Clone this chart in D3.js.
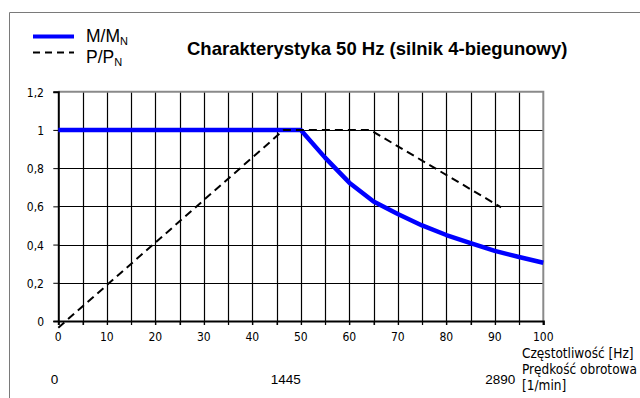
<!DOCTYPE html>
<html>
<head>
<meta charset="utf-8">
<script src="https://cdn.jsdelivr.net/npm/d3@7"></script>
<style>
  html, body { margin: 0; padding: 0; background: #fff; }
  svg { display: block; }
  .tick-label { font-family: "DejaVu Sans Condensed", "DejaVu Sans", sans-serif; font-stretch: condensed; font-size: 12px; fill: #000; }
  .note { font-family: "DejaVu Sans Condensed", "DejaVu Sans", sans-serif; font-stretch: condensed; font-size: 13.5px; fill: #000; }
  .arial { font-family: "Liberation Sans", Arial, sans-serif; fill: #000; }
</style>
</head>
<body>
<svg id="chart" width="640" height="398"></svg>
<script>
// Frequency axis (Hz)
const freqTicks = [0, 10, 20, 30, 40, 50, 60, 70, 80, 90, 100];
const freqGrid = [5, 10, 15, 20, 25, 30, 35, 40, 45, 50, 55, 60, 65, 70, 75, 80, 85, 90, 95];
const yTicks = [0, 0.2, 0.4, 0.6, 0.8, 1, 1.2];

// Torque ratio M/MN
const torqueFreq = [0, 5, 10, 15, 20, 25, 30, 35, 40, 45, 50, 55, 60, 65, 70, 75, 80, 85, 90, 95, 100];
const torqueValues = [1, 1, 1, 1, 1, 1, 1, 1, 1, 1, 1, 0.855, 0.724, 0.625, 0.56, 0.5, 0.45, 0.407, 0.367, 0.335, 0.305];

// Power ratio P/PN
const powerFreq = [0, 46.5, 64.3, 91.3];
const powerValues = [-0.035, 1, 1, 0.595];

// Rotational speed row below the frequency axis
const speedFreq = [0, 50, 100];
const speedLabels = ["0", "1445", "2890"];

const svg = d3.select("#chart");
const x = d3.scaleLinear().domain([0, 100]).range([58.3, 543.3]);
const y = d3.scaleLinear().domain([0, 1.2]).range([321, 91.7]);
const fmt = v => String(+v.toFixed(1)).replace(".", ",");

// outer frame
svg.append("path")
  .attr("d", "M9.5,398 L9.5,12.5 L640,12.5")
  .attr("fill", "none").attr("stroke", "#7a7a7a").attr("stroke-width", 1);

// grid
const grid = svg.append("g");
grid.selectAll("line.v").data(freqGrid).join("line")
  .attr("x1", d => Math.round(x(d)) + 0.5).attr("x2", d => Math.round(x(d)) + 0.5)
  .attr("y1", y(1.2)).attr("y2", y(0) + 4)
  .attr("stroke", "#000").attr("stroke-width", 1.2);
grid.selectAll("line.h").data(yTicks.filter(d => d > 0 && d < 1.2)).join("line")
  .attr("x1", x(0)).attr("x2", x(100))
  .attr("y1", d => Math.round(y(d)) + 0.5).attr("y2", d => Math.round(y(d)) + 0.5)
  .attr("stroke", "#000").attr("stroke-width", 1.2);

// plot-area top and right border
svg.append("path")
  .attr("d", `M${x(0)},${y(1.2)} L${x(100)},${y(1.2)} L${x(100)},${y(0) + 4}`)
  .attr("fill", "none").attr("stroke", "#8a8a8a").attr("stroke-width", 2);

// axes
const xAxis = d3.axisBottom(x).tickValues(freqGrid.concat([0, 100])).tickSize(4).tickFormat("");
svg.append("g").attr("transform", `translate(0,${y(0)})`).call(xAxis)
  .call(g => g.select(".domain").attr("stroke", "#000").attr("stroke-width", 2))
  .call(g => g.selectAll(".tick line").attr("stroke", "#000"));
const yAxis = d3.axisLeft(y).tickValues(yTicks).tickSize(5).tickFormat("");
svg.append("g").attr("transform", `translate(${x(0)},0)`).call(yAxis)
  .call(g => g.select(".domain").attr("stroke", "#000").attr("stroke-width", 2))
  .call(g => g.selectAll(".tick line").attr("stroke", "#000"));

// tick labels
svg.append("g").selectAll("text").data(yTicks).join("text")
  .attr("class", "tick-label")
  .attr("x", 44).attr("y", d => y(d) + 5)
  .attr("text-anchor", "end")
  .text(fmt);
svg.append("g").selectAll("text").data(freqTicks).join("text")
  .attr("class", "tick-label")
  .attr("x", d => x(d)).attr("y", 341)
  .attr("text-anchor", "middle")
  .text(d => d);

// speed row
svg.append("g").selectAll("text").data(speedFreq).join("text")
  .attr("class", "arial")
  .style("font-size", "13.5px")
  .attr("x", (d, i) => x(d) - (i === 2 ? 28 : 0)).attr("y", 384)
  .attr("text-anchor", "end")
  .text((d, i) => speedLabels[i]);

// axis notes
const notes = [["Częstotliwość [Hz]", 358], ["Prędkość obrotowa", 374], ["[1/min]", 390]];
svg.append("g").selectAll("text").data(notes).join("text")
  .attr("class", "note")
  .attr("x", 522).attr("y", d => d[1])
  .text(d => d[0]);

// series
const torqueLine = d3.line().x((d, i) => x(torqueFreq[i])).y(d => y(d));
svg.append("path").datum(torqueValues)
  .attr("d", torqueLine)
  .attr("fill", "none").attr("stroke", "#0000ff").attr("stroke-width", 4.5)
  .attr("stroke-linejoin", "round");

const powerLine = d3.line().x((d, i) => x(powerFreq[i])).y(d => y(d));
svg.append("path").datum(powerValues)
  .attr("d", powerLine)
  .attr("fill", "none").attr("stroke", "#000").attr("stroke-width", 2)
  .attr("stroke-dasharray", "8,5");

// legend
const legend = svg.append("g");
legend.append("line").attr("x1", 33).attr("x2", 74).attr("y1", 36.5).attr("y2", 36.5)
  .attr("stroke", "#0000ff").attr("stroke-width", 4);
legend.append("line").attr("x1", 33).attr("x2", 74).attr("y1", 52.5).attr("y2", 52.5)
  .attr("stroke", "#000").attr("stroke-width", 2).attr("stroke-dasharray", "7,5");
const lm = legend.append("text").attr("class", "arial").attr("x", 86).attr("y", 42).style("font-size", "17.5px");
lm.append("tspan").text("M/M");
lm.append("tspan").attr("dy", 3).style("font-size", "11px").text("N");
const lp = legend.append("text").attr("class", "arial").attr("x", 86).attr("y", 63).style("font-size", "17.5px");
lp.append("tspan").text("P/P");
lp.append("tspan").attr("dy", 3).style("font-size", "11px").text("N");

// title
svg.append("text").attr("class", "arial")
  .attr("x", 187).attr("y", 55)
  .style("font-size", "18.5px").style("font-weight", "bold")
  .text("Charakterystyka 50 Hz (silnik 4-biegunowy)");
</script>
</body>
</html>
